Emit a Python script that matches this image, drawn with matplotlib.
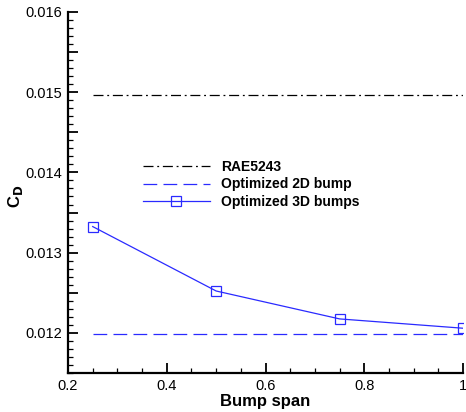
import matplotlib
matplotlib.use('Agg')
import matplotlib.pyplot as plt
from matplotlib.ticker import MultipleLocator

plt.rcParams['font.family'] = ['Liberation Sans', 'DejaVu Sans']

span = [0.25, 0.5, 0.75, 1.0]
cd_3d = [0.013325, 0.012522, 0.012174, 0.012058]
cd_rae = 0.01496
cd_2d = 0.01198
x_ref = [0.25, 1.0]

x_ticks = [0.2, 0.4, 0.6, 0.8, 1.0]
x_labels = ['0.2', '0.4', '0.6', '0.8', '1']
y_ticks = [0.012, 0.0125, 0.013, 0.0135, 0.014, 0.0145, 0.015, 0.0155, 0.016]
y_labels = ['0.012', '', '0.013', '', '0.014', '', '0.015', '', '0.016']

blue = '#2a2aff'

fig = plt.figure(figsize=(4.66, 4.12), dpi=100)
ax = fig.add_axes([0.146, 0.0947, 0.8476, 0.8762])

ax.plot(x_ref, [cd_rae, cd_rae], color='black', lw=0.9, dashes=(8, 3, 1.5, 3), label='RAE5243')
ax.plot(x_ref, [cd_2d, cd_2d], color=blue, lw=0.9, dashes=(11, 5), label='Optimized 2D bump')
ax.plot(span, cd_3d, color=blue, lw=0.9, marker='s', ms=7.5, mfc='none', mec=blue, mew=0.9,
        label='Optimized 3D bumps')

ax.set_xlim(0.2, 1.0)
ax.set_ylim(0.0115, 0.016)
ax.set_xticks(x_ticks)
ax.set_xticklabels(x_labels)
ax.xaxis.set_minor_locator(MultipleLocator(0.05))
ax.set_yticks(y_ticks)
ax.set_yticklabels(y_labels)
ax.yaxis.set_minor_locator(MultipleLocator(0.0001))

for s in ['top', 'right']:
    ax.spines[s].set_visible(False)
for s in ['left', 'bottom']:
    ax.spines[s].set_linewidth(1.6)
ax.tick_params(which='major', direction='in', length=7, width=1.3, labelsize=10.5, pad=4)
ax.tick_params(which='minor', direction='in', length=3.5, width=0.9)

ax.set_xlabel('Bump span', fontsize=12, fontweight='bold', labelpad=1)
ax.set_ylabel(r'C$_\mathbf{D}$', fontsize=12, fontweight='bold', labelpad=0)
ax.yaxis.set_label_coords(-0.109, 0.49)

leg = ax.legend(loc='upper left', bbox_to_anchor=(0.19, 0.59), frameon=False,
                prop={'weight': 'bold', 'size': 10}, handlelength=4.8, handletextpad=0.8,
                labelspacing=0.25, borderpad=0, borderaxespad=0)

fig.savefig('out.png', dpi=100)
